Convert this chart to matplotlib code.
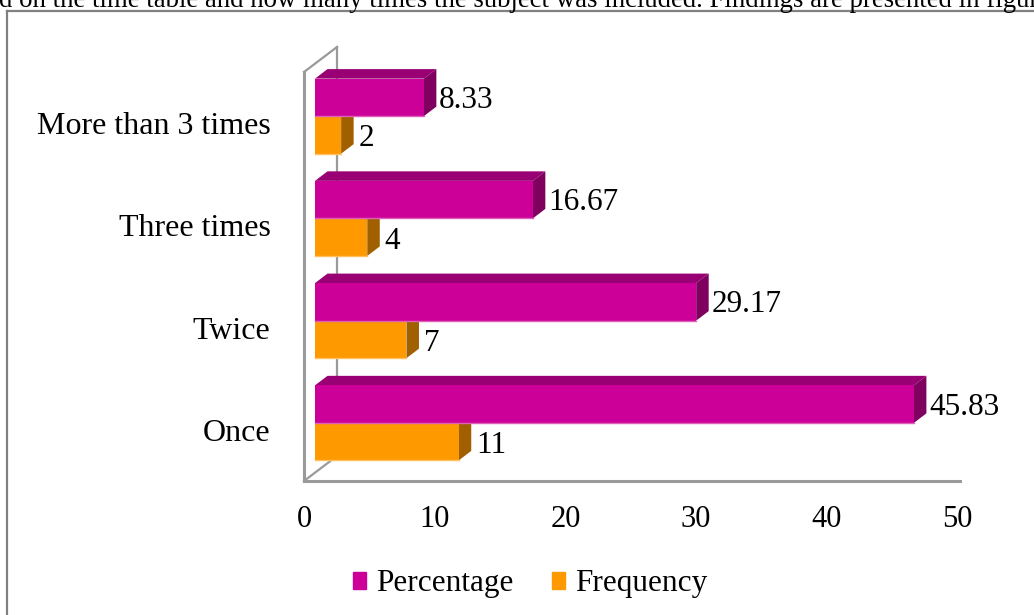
import matplotlib
matplotlib.use("Agg")
import matplotlib.pyplot as plt
from matplotlib.lines import Line2D
from matplotlib.patches import Patch, Polygon
from matplotlib.transforms import Affine2D

plt.rcParams['font.family'] = ['Liberation Serif', 'DejaVu Sans']

# data
categories = ["Once", "Twice", "Three times", "More than 3 times"]
percentage = [45.83, 29.17, 16.67, 8.33]
frequency = [11, 7, 4, 2]
perc_labels = ["45.83", "29.17", "16.67", "8.33"]
freq_labels = ["11", "7", "4", "2"]
x_ticks = [0, 10, 20, 30, 40, 50]
caption = "d on the time table and how many times the subject was included. Findings are presented in figure"

W, H = 1034, 615
fig = plt.figure(figsize=(W/100, H/100), dpi=100)
ax = fig.add_axes([304/W, 1-481/H, (960-304)/W, (481-72)/H])
ax.set_xlim(0, 50.2)
ax.set_ylim(-0.5, 3.5)

grey = "#9a9a9a"
for s in ['top', 'right']:
    ax.spines[s].set_visible(False)
for s in ['left', 'bottom']:
    ax.spines[s].set_color(grey)
    ax.spines[s].set_linewidth(2.2)
ax.set_xticks(x_ticks)
ax.set_yticks(range(4))
ax.set_yticklabels(categories)
ax.tick_params(axis='x', length=0, pad=17.5, labelsize=22)
ax.tick_params(axis='y', length=0, pad=24, labelsize=23)

fig.canvas.draw()
shift = Affine2D().translate(11, 7)
bar_tr = ax.transData + shift
dx, dy = 12.5, 9.5
wall_dx, wall_dy = 33, 25
h = 0.367

# back wall of the fake 3d box
x0, y0 = ax.transAxes.transform((0, 0))
x1, y1 = ax.transAxes.transform((0, 1))
wall = [[(x0, y0), (x0+wall_dx, y0+wall_dy)],
        [(x1, y1), (x1+wall_dx, y1+wall_dy)],
        [(x0+wall_dx, y0+wall_dy), (x1+wall_dx, y1+wall_dy)]]
for seg in wall:
    ax.add_line(Line2D([seg[0][0], seg[1][0]], [seg[0][1], seg[1][1]], transform=None,
                       color=grey, lw=1.6, clip_on=False, zorder=1))


def bar3d(val, yc, front, side, top, edge):
    ax.barh(yc, val, height=h, color=front, transform=bar_tr, zorder=3, clip_on=False)
    xa, ya = bar_tr.transform((0, yc - h/2))
    xb, yb = bar_tr.transform((val, yc + h/2))
    ax.add_patch(Polygon([(xa, yb), (xb, yb), (xb+dx, yb+dy), (xa+dx, yb+dy)], transform=None,
                         fc=top, ec='none', zorder=2.5, clip_on=False))
    ax.add_patch(Polygon([(xb, ya), (xb, yb), (xb+dx, yb+dy), (xb+dx, ya+dy)], transform=None,
                         fc=side, ec='none', zorder=2.5, clip_on=False))
    ax.add_line(Line2D([xa, xb], [ya, ya], transform=None, color=edge, lw=1, clip_on=False, zorder=3.2))
    return xb + dx, (ya + yb) / 2


for i in range(4):
    px, py = bar3d(percentage[i], i + h/2, "#cc0099", "#800060", "#990073", "#e060b8")
    ax.text(px + 2.5, py - 3, perc_labels[i], transform=None, fontsize=22.5, va='center', ha='left', zorder=4)
    px, py = bar3d(frequency[i], i - h/2, "#ff9900", "#a06000", "#a06000", "#ffc060")
    ax.text(px + 5, py - 4, freq_labels[i], transform=None, fontsize=22.5, va='center', ha='left', zorder=4)

handles = [Patch(color="#cc0099", label="Percentage"), Patch(color="#ff9900", label="Frequency")]
fig.legend(handles=handles, loc='center', bbox_to_anchor=(530/W, 1-584/H), ncols=2, frameon=False,
           fontsize=22.5, handlelength=0.42, handleheight=0.5, handletextpad=0.3, columnspacing=1.25)

# page frame and the clipped caption from the source document
frame = "#808080"
fig.add_artist(Line2D([7/W, 7/W], [0, 1-11/H], color=frame, lw=1.6))
fig.add_artist(Line2D([7/W, 1], [1-11/H, 1-11/H], color=frame, lw=1.6))
fig.text(-1/W, 1-7/H, caption, fontsize=19.3, va='baseline', ha='left')

fig.savefig("out.png", dpi=100)
